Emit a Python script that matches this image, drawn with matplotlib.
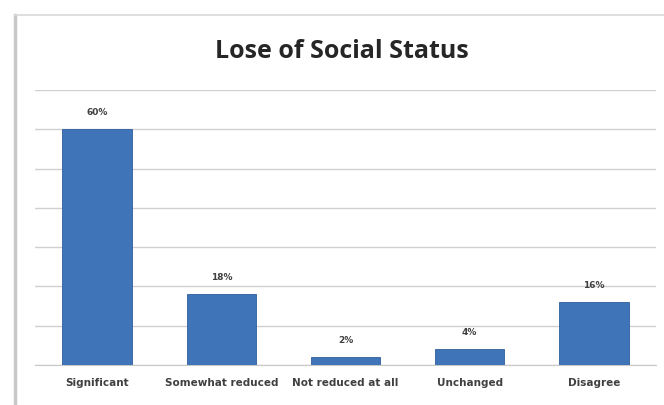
import matplotlib
matplotlib.use("Agg")
import matplotlib.pyplot as plt
from matplotlib.lines import Line2D

categories = ["Significant", "Somewhat reduced", "Not reduced at all", "Unchanged", "Disagree"]
values = [60, 18, 2, 4, 16]
value_labels = ["60%", "18%", "2%", "4%", "16%"]
title = "Lose of Social Status"

W, H = 664, 405
fig = plt.figure(figsize=(W / 100, H / 100), dpi=100)
fig.patch.set_facecolor("white")

# outer chart frame lines
fig.add_artist(Line2D([15 / W, 15 / W], [0, 1 - 15 / H], color="#c8c8c8", lw=2.5))
fig.add_artist(Line2D([15 / W, 1], [1 - 15 / H, 1 - 15 / H], color="#d9d9d9", lw=1.2))

ax = fig.add_axes([35 / W, 1 - 365 / H, (656 - 35) / W, (365 - 90) / H])
x = range(len(categories))
ax.bar(x, values, width=0.56, color="#3f74b9", edgecolor="#2f5f9e", linewidth=0.6, zorder=3)
for xi, v, lab in zip(x, values, value_labels):
    ax.text(xi, v + 3.2, lab, ha="center", va="bottom", fontsize=6.5, color="#404040", fontweight="bold")

ax.set_ylim(0, 70)
ax.set_xlim(-0.5, len(categories) - 0.5)
ax.set_yticks(range(0, 71, 10))
ax.set_yticklabels([])
ax.tick_params(axis="y", length=0)
ax.grid(axis="y", color="#d0d0d0", lw=1.0, zorder=0)
ax.set_xticks(list(x))
ax.set_xticklabels(categories, fontsize=7.5, color="#404040", fontweight="bold")
ax.tick_params(axis="x", length=0, pad=9)
for s in ["top", "right", "left"]:
    ax.spines[s].set_visible(False)
ax.spines["bottom"].set_color("#c8c8c8")

fig.text(342 / W, 1 - 51 / H, title, ha="center", va="center",
         fontsize=18, fontweight="bold", color="#262626", family="Open Sans")

fig.savefig("out.png", dpi=100)
